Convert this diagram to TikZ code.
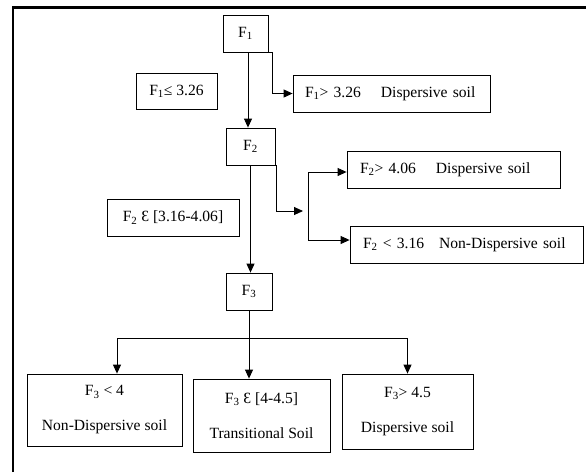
\documentclass[tikz,border=0pt]{standalone}
\usepackage{fontspec}
\setmainfont{Liberation Serif}
\usetikzlibrary{arrows.meta,positioning}

\begin{document}
\begin{tikzpicture}[x=1pt,y=-1pt,
    box/.style={draw,line width=0.8pt,inner sep=0pt,minimum height=37pt,font=\fontsize{15.6}{18}\selectfont},
    lbox/.style={box,align=left,inner xsep=13pt},
    tbox/.style={box,align=center,font=\fontsize{15.6}{18}\selectfont},
    arr/.style={-{Triangle[length=9pt,width=8pt]},line width=0.9pt}]

      \useasboundingbox (0,0) rectangle (586,472);
      \draw[line width=2.2pt] (13,472) -- (13,7.5) -- (586,7.5);

      \node[box,minimum width=45pt] (f1) at (245.5,33.5) {F\textsubscript{1}};
      \node[box,minimum width=81pt,minimum height=36pt] (c1) at (176.5,91) {F\textsubscript{1}≤ 3.26};
      \node[lbox,inner xsep=12pt,text width=173pt] (d1) at (391.5,93.5) {F\textsubscript{1}> 3.26\hspace{20pt}Dispersive soil};
      \node[box,minimum width=49pt] (f2) at (250.5,146.5) {F\textsubscript{2}};
      \node[box,minimum width=132pt] (c2) at (173,217.5) {F\textsubscript{2} Ɛ [3.16-4.06]};
      \node[lbox,text width=187pt] (d2) at (453.5,169.5) {F\textsubscript{2}> 4.06\hspace{20pt}Dispersive soil};
      \node[lbox,text width=207pt] (n2) at (466.5,244.5) {F\textsubscript{2} < 3.16\hspace{15pt}Non-Dispersive soil};
      \node[box,minimum width=46pt] (f3) at (249,291.5) {F\textsubscript{3}};
      \node[tbox,minimum width=155pt,minimum height=72pt] (nd) at (104.5,410) {F\textsubscript{3} < 4\\[17pt]Non-Dispersive soil};
      \node[tbox,minimum width=137pt,minimum height=73pt] (tr) at (261.5,415.5) {F\textsubscript{3} Ɛ [4-4.5]\\[17pt]Transitional Soil};
      \node[tbox,minimum width=131pt,minimum height=75pt] (ds) at (407.5,411.5) {F\textsubscript{3}> 4.5\\[17pt]Dispersive soil};

      \coordinate (bar) at (308,211);
      \coordinate (bus) at (249,338);

      \draw[arr] ([xshift=2.5pt]f1.south) -- ([xshift=2.5pt]f1.south |- f2.north);
      \draw[arr] (f1.south east) -- ++(4,0) |- (d1.west);
      \draw[arr] (f2.south) -- (f2.south |- f3.north);
      \draw[arr] (f2.south) -- (f2.south east) -- ++(1,0) |- ([xshift=-5pt]bar);
      \draw[arr] (bar) |- ([yshift=-2.5pt]d2.west);
      \draw[arr] (bar) |- ([yshift=4.5pt]n2.west);
      \draw[arr] (f3.south) -- (f3.south |- tr.north);
      \draw[arr] (bus) -| ([xshift=12.5pt]nd.north);
      \draw[arr] (bus) -| (ds.north);
\end{tikzpicture}
\end{document}
